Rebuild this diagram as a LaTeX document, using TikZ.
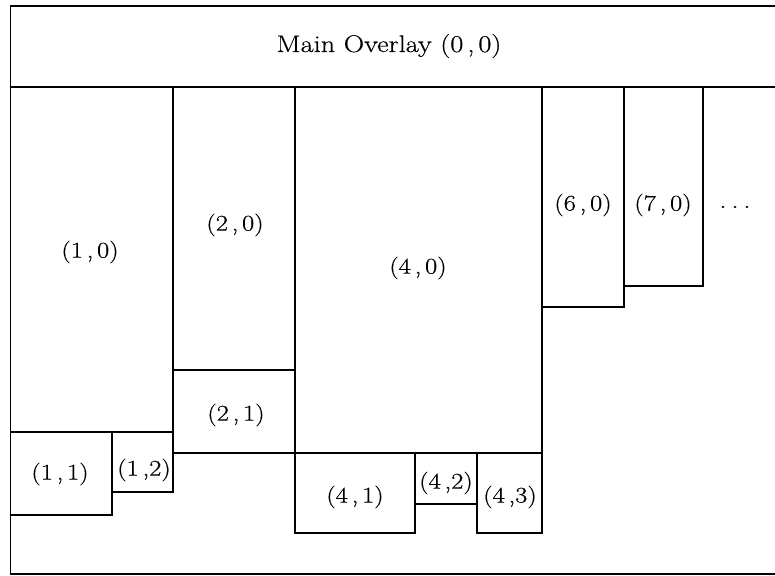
\documentclass[tikz,border=0pt]{standalone}
\usepackage{fontspec}
\setmainfont{Latin Modern Roman}[FakeStretch=1.18,FakeBold=0.6]
\begin{document}
\begin{tikzpicture}[x=1pt,y=-1pt,line width=1.3pt,
  lbl/.style={inner sep=0pt,font=\fontsize{22.5}{26}\selectfont},
  seg/.style={draw=black,line cap=rect}]
\useasboundingbox (0,0) rectangle (775,575);
% outer frame
\coordinate (tl) at (10.5,6);
\coordinate (tr) at (775,6);
\coordinate (bl) at (10.5,574);
\coordinate (br) at (775,574);
\coordinate (hl) at (10.5,87);
\coordinate (hr) at (775,87);
\draw[seg] (tr) -- (tl) -- (bl) -- (br);
\draw[seg] (hl) -- (hr);
\node[lbl,font=\fontsize{24}{28}\selectfont] (main) at (389,46) {Main Overlay (0\,,\,0)};
% boxes
\draw[seg] (10.5,87) rectangle (173,432);
\draw[seg] (173,87) rectangle (295,370);
\draw[seg] (173,370) rectangle (295,453);
\draw[seg] (10.5,432) rectangle (112,515);
\draw[seg] (112,432) rectangle (173,492);
\draw[seg] (295,87) rectangle (542,453);
\draw[seg] (295,453) rectangle (415,533);
\draw[seg] (415,453) rectangle (477,504);
\draw[seg] (477,453) rectangle (542,533);
\draw[seg] (542,87) rectangle (624,307);
\draw[seg] (624,87) rectangle (703,286);
% labels
\node[lbl] (n10) at (90,252) {(1\,,\,0)};
\node[lbl] (n20) at (235,225) {(2\,,\,0)};
\node[lbl] (n21) at (236,415) {(2\,,\,1)};
\node[lbl] (n11) at (60,474) {(1\,,\,1)};
\node[lbl] (n12) at (144,470) {(1\,,2)};
\node[lbl] (n40) at (418,268) {(4\,,\,0)};
\node[lbl] (n41) at (355,497) {(4\,,\,1)};
\node[lbl] (n42) at (446,483) {(4\,,2)};
\node[lbl] (n43) at (510,497) {(4\,,3)};
\node[lbl] (n60) at (583,205) {(6\,,\,0)};
\node[lbl] (n70) at (663,205) {(7\,,\,0)};
\node[lbl,font=\fontsize{26}{30}\selectfont] (dots) at (735,207) {.\,.\,.};
\end{tikzpicture}
\end{document}
